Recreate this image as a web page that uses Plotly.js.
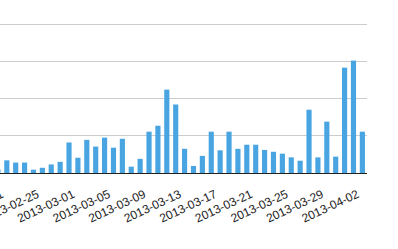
<!DOCTYPE html>
<html>
<head>
<meta charset="utf-8">
<script src="https://cdn.plot.ly/plotly-3.0.1.min.js"></script>
<style>html,body{margin:0;padding:0;background:#fff;}#chart{width:398px;height:249px;}</style>
</head>
<body>
<div id="chart"></div>
<script>
// Daily dates (one bar per day)
const dates = [
  "2013-02-20","2013-02-21","2013-02-22","2013-02-23","2013-02-24","2013-02-25","2013-02-26",
  "2013-02-27","2013-02-28","2013-03-01","2013-03-02","2013-03-03","2013-03-04","2013-03-05",
  "2013-03-06","2013-03-07","2013-03-08","2013-03-09","2013-03-10","2013-03-11","2013-03-12",
  "2013-03-13","2013-03-14","2013-03-15","2013-03-16","2013-03-17","2013-03-18","2013-03-19",
  "2013-03-20","2013-03-21","2013-03-22","2013-03-23","2013-03-24","2013-03-25","2013-03-26",
  "2013-03-27","2013-03-28","2013-03-29","2013-03-30","2013-03-31","2013-04-01","2013-04-02"
];
// Values (gridline step = 10)
const values = [
  1.0, 3.4, 2.8, 2.8, 0.9, 1.4, 2.3,
  3.0, 8.2, 4.1, 8.9, 7.1, 9.5, 6.8,
  9.2, 1.7, 3.8, 11.1, 12.7, 22.4, 18.4,
  6.5, 1.9, 4.6, 11.1, 6.1, 11.1, 6.5,
  7.6, 7.6, 6.2, 5.7, 5.2, 4.2, 3.3,
  17.0, 4.2, 13.8, 4.4, 28.3, 30.2, 11.1
];
const tickStart = "2013-02-21";
const tickStepDays = 4;
const xRange = ["2013-02-20 05:38", "2013-04-02 12:30"];
const yRange = [0, 40.3];

const trace = {
  type: "bar",
  x: dates,
  y: values,
  marker: {color: "#48a5e2", line: {width: 0}},
  hoverinfo: "x+y"
};

const layout = {
  width: 398,
  height: 249,
  margin: {l: 0, r: 31, t: 23, b: 76, pad: 0},
  paper_bgcolor: "#ffffff",
  plot_bgcolor: "#ffffff",
  bargap: 0.42,
  showlegend: false,
  font: {family: "Liberation Sans, Arial, sans-serif", size: 12, color: "#222222"},
  xaxis: {
    type: "date",
    range: xRange,
    tick0: tickStart,
    dtick: tickStepDays * 86400000,
    tickformat: "%Y-%m-%d",
    tickangle: -25,
    ticklabeloverflow: "allow",
    ticklabelstandoff: 9,
    ticklabelshift: -5,
    showgrid: false,
    showline: true,
    linecolor: "#222222",
    linewidth: 1,
    ticks: "",
    automargin: false,
    tickfont: {family: "Liberation Sans, Arial, sans-serif", size: 12, color: "#222222"}
  },
  yaxis: {
    range: yRange,
    dtick: 10,
    showgrid: true,
    gridcolor: "#cccccc",
    gridwidth: 1,
    zeroline: false,
    showticklabels: false,
    ticks: "",
    automargin: false
  }
};

Plotly.newPlot("chart", [trace], layout, {staticPlot: true, displayModeBar: false});
</script>
</body>
</html>
